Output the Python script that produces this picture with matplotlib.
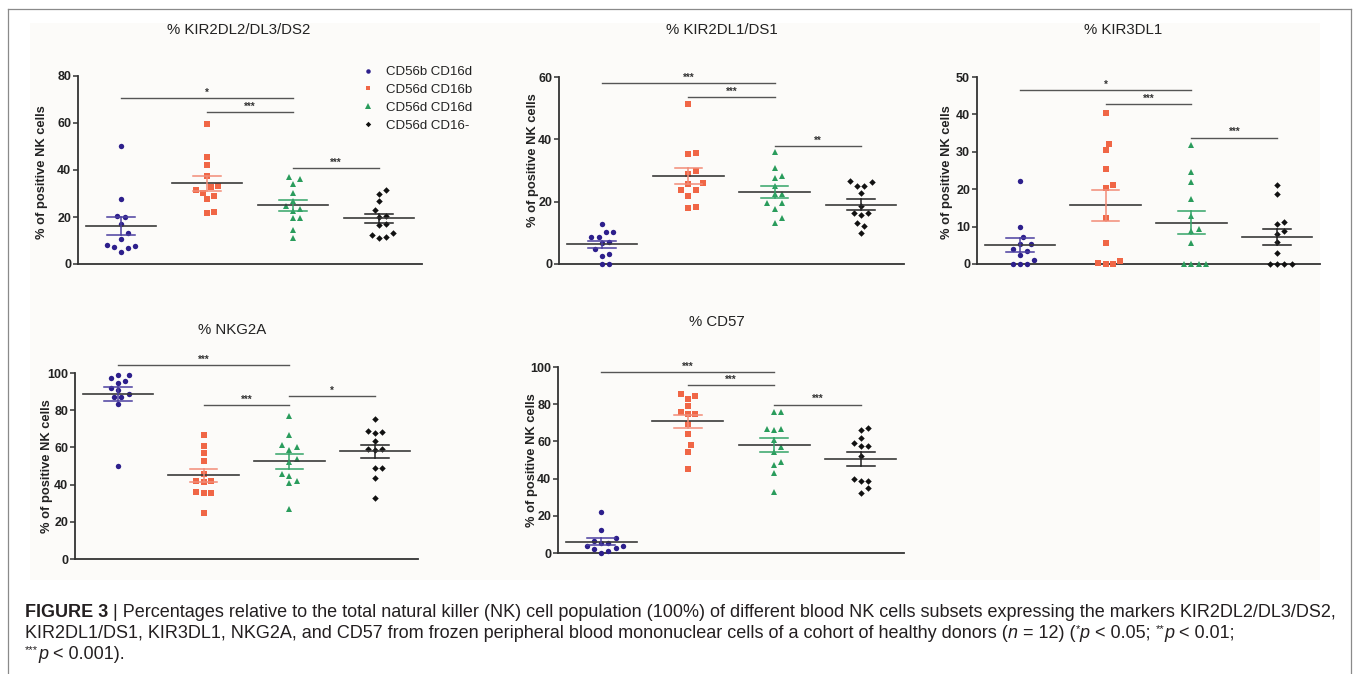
import numpy as np
import matplotlib
matplotlib.use('Agg')
import matplotlib.pyplot as plt
from matplotlib.lines import Line2D
from matplotlib.patches import Rectangle

plt.rcParams['font.family'] = ['Liberation Sans', 'DejaVu Sans']

# ---------------- data ----------------
groups = ['CD56b CD16d', 'CD56d CD16b', 'CD56d CD16d', 'CD56d CD16-']
titles = ['% KIR2DL2/DL3/DS2', '% KIR2DL1/DS1', '% KIR3DL1', '% NKG2A', '% CD57']
ylabel = '% of positive NK cells'

kir2dl2 = [
    [50.0, 27.8, 20.4, 20.0, 17.0, 13.2, 10.6, 8.0, 7.8, 7.2, 7.0, 5.0],
    [59.6, 45.4, 42.0, 37.3, 33.0, 32.7, 31.5, 30.4, 29.0, 27.5, 22.0, 21.5],
    [36.9, 36.3, 34.2, 30.1, 26.7, 24.8, 23.4, 22.7, 19.4, 19.4, 14.5, 10.9],
    [31.5, 29.8, 26.7, 23.1, 20.6, 20.1, 17.0, 16.6, 13.0, 12.2, 11.3, 11.1],
]
kir2dl1 = [
    [12.9, 10.4, 10.4, 8.8, 8.8, 7.0, 6.6, 4.7, 3.2, 2.7, 0.0, 0.0],
    [51.2, 35.7, 35.3, 29.7, 28.8, 25.9, 25.7, 23.9, 23.9, 21.9, 18.4, 18.1],
    [36.0, 30.8, 28.1, 27.7, 24.9, 22.5, 22.5, 19.5, 19.5, 17.6, 14.7, 13.3],
    [26.5, 26.4, 25.1, 24.9, 22.7, 18.6, 16.3, 16.3, 15.8, 13.1, 12.2, 10.1],
]
kir3dl1 = [
    [22.1, 9.8, 7.3, 5.4, 5.4, 4.0, 3.6, 2.5, 1.1, 0.0, 0.0, 0.0],
    [40.4, 32.1, 30.4, 25.4, 21.1, 20.4, 12.2, 5.7, 0.8, 0.4, 0.0, 0.0],
    [31.9, 24.5, 22.0, 17.5, 12.9, 9.4, 8.9, 5.5, 0.0, 0.0, 0.0, 0.0],
    [21.0, 18.6, 11.1, 10.6, 8.9, 8.0, 6.0, 2.9, 0.0, 0.0, 0.0, 0.0],
]
nkg2a = [
    [99.1, 98.8, 97.3, 95.5, 94.8, 92.1, 90.9, 88.9, 87.0, 87.0, 83.6, 50.2],
    [66.8, 60.9, 56.8, 52.7, 45.7, 42.1, 41.8, 41.6, 35.9, 35.7, 35.5, 25.0],
    [77.1, 66.6, 61.3, 60.4, 58.6, 53.8, 52.1, 45.5, 44.8, 42.0, 40.9, 26.8],
    [75.5, 68.8, 68.2, 67.7, 63.6, 59.1, 59.1, 58.6, 48.9, 48.9, 43.4, 32.9],
]
cd57 = [
    [22.3, 12.5, 7.8, 6.2, 5.6, 5.6, 3.9, 3.6, 2.8, 2.2, 0.9, 0.2],
    [85.7, 84.6, 83.0, 78.9, 75.7, 74.6, 74.6, 69.5, 64.1, 58.0, 54.5, 45.2],
    [75.9, 75.9, 66.6, 66.4, 66.1, 60.7, 56.8, 54.5, 49.1, 47.5, 43.2, 33.0],
    [67.3, 66.1, 62.0, 58.9, 57.7, 57.5, 52.1, 39.6, 38.8, 38.8, 34.8, 32.1],
]

# significance brackets: (group a, group b, label, height)
sig_kir2dl2 = [(0, 2, '*', 70.5), (1, 2, '***', 64.5), (2, 3, '***', 40.7)]
sig_kir2dl1 = [(0, 2, '***', 58.1), (1, 2, '***', 53.6), (2, 3, '**', 37.9)]
sig_kir3dl1 = [(0, 2, '*', 46.4), (1, 2, '***', 42.8), (2, 3, '***', 33.8)]
sig_nkg2a = [(0, 2, '***', 104.1), (1, 2, '***', 82.7), (2, 3, '*', 87.7)]
sig_cd57 = [(0, 2, '***', 97.3), (1, 2, '***', 90.2), (2, 3, '***', 79.8)]

yticks_kir2dl2 = [0, 20, 40, 60, 80]
yticks_kir2dl1 = [0, 20, 40, 60]
yticks_kir3dl1 = [0, 10, 20, 30, 40, 50]
yticks_nkg2a = [0, 20, 40, 60, 80, 100]
yticks_cd57 = [0, 20, 40, 60, 80, 100]

# caption segments: (text, style) with style in {'r', 'b', 'i', 'sup'}
caption_lines = [
    [('FIGURE 3', 'b'), (' | Percentages relative to the total natural killer (NK) cell population (100%) of '
                         'different blood NK cells subsets expressing the markers KIR2DL2/DL3/DS2,', 'r')],
    [('KIR2DL1/DS1, KIR3DL1, NKG2A, and CD57 from frozen peripheral blood mononuclear cells of a '
      'cohort of healthy donors (', 'r'), ('n', 'i'), (' = 12) (', 'r'), ('*', 'sup'), ('p', 'i'),
     (' < 0.05; ', 'r'), ('**', 'sup'), ('p', 'i'), (' < 0.01;', 'r')],
    [('***', 'sup'), ('p', 'i'), (' < 0.001).', 'r')],
]

# ---------------- styles ----------------
W, H = 1355, 674
marker_cols = ['#2D1F8C', '#F06646', '#2A9C5C', '#111111']
err_cols = ['#4B3FA0', '#F28C77', '#34A468', '#222222']
markers = ['o', 's', '^', 'D']
msizes_px = [5.4, 5.2, 6.2, 4.6]

fig = plt.figure(figsize=(W / 100, H / 100), dpi=100)
fig.patch.set_facecolor('white')

fig.add_artist(Rectangle((30 / W, 1 - 580 / H), (1320 - 30) / W, (580 - 23) / H,
                         transform=fig.transFigure, facecolor='#fcfbf9', edgecolor='none', zorder=-10))
for xs, ys in [([8, 8], [9, 674]), ([8, 1351], [9, 9]), ([1351, 1351], [9, 674])]:
    fig.add_artist(Line2D([x / W for x in xs], [1 - y / H for y in ys], color='#8a8a8a', lw=0.9))


def add_ax(l, r, y0, ytop):
    return fig.add_axes([l / W, 1 - y0 / H, (r - l) / W, (y0 - ytop) / H])


def swarm(vals, ppu_y, ppu_x, d=7.2):
    vals = np.asarray(vals, dtype=float)
    order = np.argsort(vals)
    placed = []
    offs = np.zeros(len(vals))
    for idx in order:
        y = vals[idx] * ppu_y
        chosen = None
        k = 0
        while chosen is None:
            cands = [0.0] if k == 0 else [k * d / 2, -k * d / 2]
            for c in cands:
                if all((c - px) ** 2 + (y - py) ** 2 >= d * d for px, py in placed):
                    chosen = c
                    break
            k += 1
        placed.append((chosen, y))
        offs[idx] = chosen / ppu_x
    return offs


panels = [
    (kir2dl2, sig_kir2dl2, yticks_kir2dl2, (78, 422, 264, 76), (239, 30), (42, 172)),
    (kir2dl1, sig_kir2dl1, yticks_kir2dl1, (559, 904, 264, 77), (722, 30), (533, 160)),
    (kir3dl1, sig_kir3dl1, yticks_kir3dl1, (977, 1320, 264, 77), (1123, 30), (947, 172)),
    (nkg2a, sig_nkg2a, yticks_nkg2a, (75, 418, 559, 373), (232, 330), (47, 466)),
    (cd57, sig_cd57, yticks_cd57, (558, 904, 553, 367), (717, 322), (532, 460)),
]

for p, (data, sigs, yt, box, tpos, ypos) in enumerate(panels):
    l, r, y0, ytop = box
    ax = add_ax(l, r, y0, ytop)
    ax.set_facecolor('none')
    ax.set_xlim(-0.5, 3.5)
    ax.set_ylim(0, yt[-1])
    ppu_y = (y0 - ytop) / yt[-1]
    ppu_x = (r - l) / 4.0
    for g, vals in enumerate(data):
        vals = np.asarray(vals, dtype=float)
        offs = swarm(vals, ppu_y, ppu_x)
        ax.plot(g + offs, vals, ls='none', marker=markers[g], ms=msizes_px[g] * 0.72,
                mfc=marker_cols[g], mec=marker_cols[g], mew=0, clip_on=False, zorder=3)
        m = vals.mean()
        sem = vals.std(ddof=1) / np.sqrt(len(vals))
        ax.plot([g - 0.41, g + 0.41], [m, m], color='#3a3a3a', lw=1.2, zorder=4, clip_on=False)
        ax.plot([g, g], [m - sem, m + sem], color=err_cols[g], lw=1.1, zorder=4, clip_on=False)
        for yy in (m - sem, m + sem):
            ax.plot([g - 0.16, g + 0.16], [yy, yy], color=err_cols[g], lw=1.1, zorder=4, clip_on=False)
    for a, b, lab, h in sigs:
        ax.plot([a, b], [h, h], color='#555555', lw=1.0, clip_on=False, zorder=2)
        ax.annotate(lab, xy=((a + b) / 2, h), xytext=(0, 0.3), textcoords='offset points',
                    ha='center', va='bottom', fontsize=7, fontweight='bold', color='#333333',
                    annotation_clip=False)
    ax.set_yticks(yt)
    ax.set_xticks([])
    for s in ['top', 'right']:
        ax.spines[s].set_visible(False)
    for s in ['left', 'bottom']:
        ax.spines[s].set_color('#333333')
        ax.spines[s].set_linewidth(1.3)
    ax.tick_params(axis='y', direction='out', length=3.5, width=1.1, color='#333333',
                   labelsize=9, labelcolor='#222222', pad=1.5)
    for t in ax.get_yticklabels():
        t.set_fontweight('bold')
    fig.text(tpos[0] / W, 1 - tpos[1] / H, titles[p], ha='center', va='center',
             fontsize=10.8, color='#222222')
    fig.text(ypos[0] / W, 1 - ypos[1] / H, ylabel, ha='center', va='center', rotation=90,
             fontsize=9.3, fontweight='bold', color='#222222')

# legend
handles = [Line2D([], [], ls='none', marker=markers[g], ms=msizes_px[g] * 0.6,
                  mfc=marker_cols[g], mec=marker_cols[g], mew=0) for g in range(4)]
fig.legend(handles, groups, loc='upper left', bbox_to_anchor=(362.7 / W, 1 - 66 / H),
           bbox_transform=fig.transFigure, frameon=False, fontsize=9.5, handlelength=0.8,
           handletextpad=1.0, labelspacing=0.42, borderpad=0, borderaxespad=0,
           labelcolor='#222222')

# caption, drawn segment by segment
cap_size = 13.0
renderer = fig.canvas.get_renderer()
for i, segs in enumerate(caption_lines):
    x = 25.0
    ybase = 617 + 21 * i
    for txt, st in segs:
        kw = dict(fontsize=cap_size, color='#231f20', ha='left', va='baseline')
        yy = ybase
        if st == 'b':
            kw['fontweight'] = 'bold'
        elif st == 'i':
            kw['fontstyle'] = 'italic'
        elif st == 'sup':
            kw['fontsize'] = cap_size * 0.62
            yy = ybase - 6
        t = fig.text(x / W, 1 - yy / H, txt, **kw)
        x += t.get_window_extent(renderer=renderer).width

fig.savefig('out.png', dpi=100)
